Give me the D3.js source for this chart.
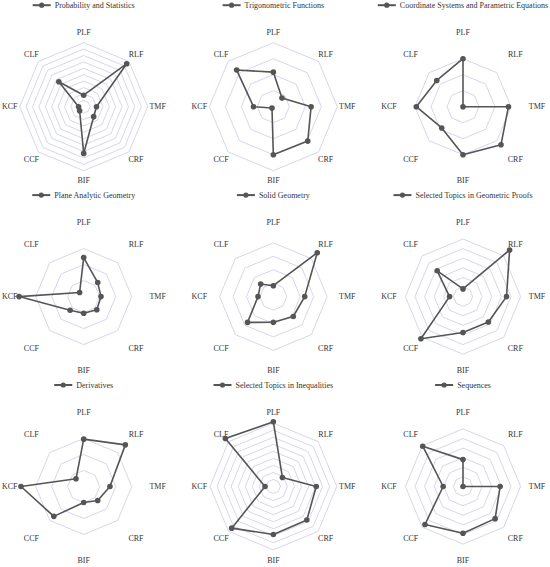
<!DOCTYPE html>
<html>
<head>
<meta charset="utf-8">
<script src="https://cdn.jsdelivr.net/npm/d3@7"></script>
<style>
  html, body { margin: 0; padding: 0; background: #fff; }
  svg { display: block; }
  text { font-family: "Liberation Serif", "DejaVu Serif", serif; }
</style>
</head>
<body>
<svg id="chart" width="550" height="567"></svg>
<script>
// ---- data ----
const axes = ["PLF", "RLF", "TMF", "CRF", "BIF", "CCF", "KCF", "CLF"];
const topics = [
  "Probability and Statistics",
  "Trigonometric Functions",
  "Coordinate Systems and Parametric Equations",
  "Plane Analytic Geometry",
  "Solid Geometry",
  "Selected Topics in Geometric Proofs",
  "Derivatives",
  "Selected Topics in Inequalities",
  "Sequences"
];
// values in order PLF, RLF, TMF, CRF, BIF, CCF, KCF, CLF
const probabilityStatistics = [18, 95, 20, 22, 73, 9, 8, 55];
const trigonometricFunctions = [54, 19, 59, 76, 75, 3, 31, 81];
const coordinateSystems = [75, 0, 71, 84, 75, 47, 73, 58];
const planeAnalyticGeometry = [61, 31, 27, 29, 26, 30, 101, 9];
const solidGeometry = [17, 97, 49, 44, 40, 57, 24, 28];
const geometricProofs = [12, 103, 68, 56, 56, 93, 21, 57];
const derivatives = [74, 92, 41, 31, 25, 66, 98, 17];
const inequalities = [101, 20, 67, 74, 75, 92, 13, 106];
const sequences = [42, 0, 58, 71, 73, 84, 31, 89];
const seriesValues = [probabilityStatistics, trigonometricFunctions, coordinateSystems,
  planeAnalyticGeometry, solidGeometry, geometricProofs, derivatives, inequalities, sequences];
// grid rings per panel
const ringCounts = [10, 4, 3, 3, 4, 6, 3, 9, 6];
const ringSteps = [10, 25, 25, 25, 21, 15, 25, 11, 15];

// ---- drawing ----
const svg = d3.select("#chart");
const lineColor = "#555555";
const gridColor = "#d6d6ef";
const textColor = "#333333";

const colX = d3.scaleLinear().domain([0, 2]).range([83.7, 463]);
const rowY = d3.scaleLinear().domain([0, 2]).range([106.7, 486.5]);
const r = d3.scaleLinear().domain([0, 100]).range([0, 64]);
const angle = d3.scaleLinear().domain([0, axes.length]).range([0, 2 * Math.PI]);
const labelRadius = 74;
const titleOffset = 101.5;

const radial = d3.lineRadial()
  .angle((d, i) => angle(i))
  .radius(d => r(d))
  .curve(d3.curveLinearClosed);

topics.forEach((topic, k) => {
  const cx = colX(k % 3), cy = rowY(Math.floor(k / 3));
  const g = svg.append("g").attr("transform", `translate(${cx},${cy})`);

  // grid rings
  const rings = d3.range(1, ringCounts[k] + 1).map(i => i * ringSteps[k]);
  g.selectAll("path.ring").data(rings).join("path")
    .attr("class", "ring")
    .attr("d", v => radial(axes.map(() => v)))
    .attr("fill", "none")
    .attr("stroke", gridColor)
    .attr("stroke-width", 1);

  // axis labels
  g.selectAll("text.axis").data(axes).join("text")
    .attr("class", "axis")
    .attr("x", (d, i) => labelRadius * Math.sin(angle(i)))
    .attr("y", (d, i) => -labelRadius * Math.cos(angle(i)))
    .attr("text-anchor", "middle")
    .attr("dominant-baseline", "central")
    .attr("font-size", 8)
    .attr("fill", textColor)
    .text(d => d);

  // series polygon
  const vals = seriesValues[k];
  g.append("path")
    .attr("d", radial(vals))
    .attr("fill", "none")
    .attr("stroke", lineColor)
    .attr("stroke-width", 1.6)
    .attr("stroke-linejoin", "round");

  g.selectAll("circle.pt").data(vals).join("circle")
    .attr("class", "pt")
    .attr("cx", (d, i) => r(d) * Math.sin(angle(i)))
    .attr("cy", (d, i) => -r(d) * Math.cos(angle(i)))
    .attr("r", 2.8)
    .attr("fill", lineColor);

  // legend/title
  const lg = g.append("g").attr("transform", `translate(0,${-titleOffset})`);
  const txt = lg.append("text")
    .attr("dominant-baseline", "central")
    .attr("font-size", 8)
    .attr("fill", textColor)
    .text(topic);
  const tw = txt.node().getComputedTextLength();
  const iconW = 18, gap = 4;
  const total = iconW + gap + tw;
  const x0 = -total / 2;
  txt.attr("x", x0 + iconW + gap).attr("y", 0);
  lg.append("line")
    .attr("x1", x0).attr("x2", x0 + iconW)
    .attr("y1", 0).attr("y2", 0)
    .attr("stroke", lineColor).attr("stroke-width", 2);
  lg.append("circle")
    .attr("cx", x0 + iconW / 2).attr("cy", 0).attr("r", 2.6)
    .attr("fill", lineColor);
});
</script>
</body>
</html>
